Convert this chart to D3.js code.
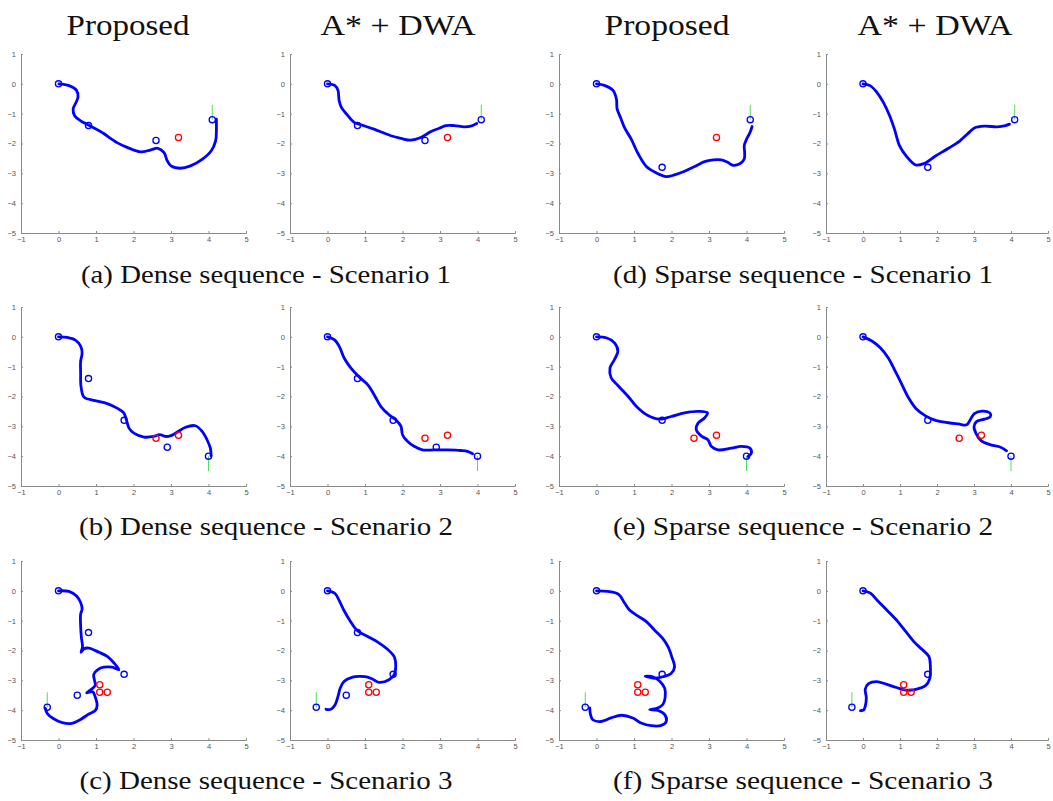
<!DOCTYPE html>
<html>
<head>
<meta charset="utf-8">
<script src="https://cdn.jsdelivr.net/npm/d3@7"></script>
<style>
  html, body { margin: 0; padding: 0; background: #fff; }
  svg { display: block; }
  .tick text { font-family: "Liberation Sans", Arial, sans-serif; font-size: 7.5px; fill: #555; }
  .domain, .tick line { stroke: #8a8a8a; stroke-width: 1; }
  .title, .caption { font-family: "Liberation Serif", "Times New Roman", serif; fill: #111; }
</style>
</head>
<body>
<svg id="fig" width="1053" height="801"></svg>
<script>
// Column headings and sub-figure captions
const columnTitles = ["Proposed", "A* + DWA", "Proposed", "A* + DWA"];
const captions = [
  "(a) Dense sequence - Scenario 1", "(d) Sparse sequence - Scenario 1",
  "(b) Dense sequence - Scenario 2", "(e) Sparse sequence - Scenario 2",
  "(c) Dense sequence - Scenario 3", "(f) Sparse sequence - Scenario 3"
];
const xTicks = [-1, 0, 1, 2, 3, 4, 5];
const yTicks = [-5, -4, -3, -2, -1, 0, 1];

// Waypoints (blue), obstacles (red) and goal heading segments (green)
const waypointsDense1 = [[0, 0], [0.8, -1.4], [2.6, -1.9], [4.1, -1.2]];
const waypointsSparse1 = [[0, 0], [1.75, -2.8], [4.1, -1.2]];
const obstaclesS1 = [[3.2, -1.8]];
const goalS1 = [[4.1, -1.2], [4.1, -0.7]];

const waypointsDense2 = [[0, 0], [0.8, -1.4], [1.75, -2.8], [2.9, -3.7], [4, -4]];
const waypointsSparse2 = [[0, 0], [1.75, -2.8], [4, -4]];
const obstaclesS2 = [[2.6, -3.4], [3.2, -3.3]];
const goalS2 = [[4, -4], [4, -4.5]];

const waypointsDense3 = [[0, 0], [0.8, -1.4], [1.75, -2.8], [0.5, -3.5], [-0.3, -3.9]];
const waypointsSparse3 = [[0, 0], [1.75, -2.8], [-0.3, -3.9]];
const obstaclesS3 = [[1.1, -3.15], [1.1, -3.4], [1.3, -3.4]];
const goalS3 = [[-0.3, -3.9], [-0.3, -3.4]];

// Executed trajectories
const pathDense1Proposed = [[0.01,0],[0.28,-0.06],[0.48,-0.22],[0.52,-0.45],[0.45,-0.67],[0.39,-0.84],[0.43,-1.07],[0.59,-1.24],[0.78,-1.37],[1.12,-1.6],[1.56,-1.97],[1.83,-2.13],[2.19,-2.28],[2.45,-2.22],[2.65,-2.16],[2.81,-2.3],[2.9,-2.58],[3.0,-2.75],[3.25,-2.83],[3.52,-2.75],[3.83,-2.53],[4.07,-2.25],[4.19,-1.91],[4.21,-1.57],[4.21,-1.18]];
const pathDense1Baseline = [[0,0],[0.2,-0.06],[0.28,-0.22],[0.31,-0.56],[0.37,-0.79],[0.52,-1.03],[0.71,-1.29],[0.89,-1.37],[1.24,-1.52],[1.69,-1.74],[1.96,-1.83],[2.22,-1.89],[2.49,-1.8],[2.76,-1.6],[2.98,-1.49],[3.16,-1.4],[3.38,-1.4],[3.64,-1.44],[3.82,-1.42],[3.98,-1.33]];
const pathSparse1Proposed = [[0,0],[0.21,-0.05],[0.44,-0.22],[0.53,-0.5],[0.55,-0.84],[0.64,-1.13],[0.75,-1.48],[0.93,-1.86],[1.1,-2.32],[1.33,-2.77],[1.59,-2.98],[1.86,-3.11],[2.08,-3.05],[2.35,-2.93],[2.62,-2.77],[2.88,-2.61],[3.11,-2.55],[3.33,-2.55],[3.51,-2.64],[3.64,-2.73],[3.82,-2.68],[3.94,-2.52],[3.95,-2.3],[3.94,-2.07],[4.0,-1.86],[4.09,-1.64],[4.15,-1.43]];
const pathSparse1Baseline = [[0,0],[0.19,-0.06],[0.37,-0.28],[0.55,-0.62],[0.72,-1.07],[0.85,-1.52],[0.99,-2.08],[1.17,-2.42],[1.43,-2.72],[1.65,-2.67],[1.96,-2.42],[2.31,-2.16],[2.62,-1.91],[2.84,-1.66],[3.01,-1.48],[3.28,-1.42],[3.63,-1.44],[3.85,-1.4],[3.96,-1.35]];

const pathDense2Proposed = [[0,0],[0.23,-0.02],[0.45,-0.11],[0.59,-0.31],[0.63,-0.54],[0.59,-0.82],[0.59,-1.21],[0.6,-1.66],[0.68,-2.02],[0.94,-2.13],[1.3,-2.24],[1.56,-2.39],[1.74,-2.55],[1.81,-2.78],[1.88,-3.06],[2.01,-3.23],[2.28,-3.36],[2.54,-3.34],[2.7,-3.28],[2.85,-3.34],[3.0,-3.31],[3.16,-3.2],[3.39,-3.03],[3.65,-2.98],[3.83,-3.17],[3.96,-3.45],[4.05,-3.73],[4.07,-3.99]];
const pathDense2Baseline = [[0,0],[0.18,-0.09],[0.31,-0.31],[0.44,-0.7],[0.62,-1.04],[0.84,-1.34],[1.07,-1.6],[1.24,-1.93],[1.42,-2.33],[1.64,-2.61],[1.82,-2.78],[1.96,-3.0],[2.0,-3.28],[2.13,-3.5],[2.31,-3.67],[2.53,-3.79],[2.84,-3.79],[3.2,-3.79],[3.56,-3.81],[3.73,-3.84],[3.87,-3.92]];
const pathSparse2Proposed = [[0,0],[0.26,-0.03],[0.48,-0.2],[0.57,-0.48],[0.48,-0.76],[0.36,-1.04],[0.39,-1.37],[0.57,-1.63],[0.84,-1.99],[1.1,-2.38],[1.37,-2.64],[1.68,-2.76],[1.99,-2.67],[2.35,-2.55],[2.71,-2.5],[2.96,-2.55],[2.88,-2.72],[2.71,-2.89],[2.66,-3.11],[2.8,-3.33],[2.97,-3.45],[3.06,-3.67],[3.24,-3.79],[3.6,-3.73],[3.86,-3.67],[4.09,-3.73],[4.13,-3.9],[4.04,-4.01]];
const pathSparse2Baseline = [[0,0],[0.24,-0.14],[0.46,-0.36],[0.68,-0.7],[0.85,-1.1],[1.03,-1.54],[1.21,-2.0],[1.43,-2.4],[1.69,-2.65],[1.96,-2.8],[2.31,-2.88],[2.58,-2.92],[2.8,-2.95],[2.9,-2.78],[3.01,-2.57],[3.23,-2.49],[3.44,-2.57],[3.44,-2.68],[3.28,-2.76],[3.06,-2.85],[3.0,-3.02],[3.06,-3.25],[3.19,-3.48],[3.45,-3.62],[3.72,-3.7],[3.88,-3.82]];

const pathDense3Proposed = [[0,0],[0.28,-0.02],[0.48,-0.17],[0.59,-0.39],[0.63,-0.61],[0.59,-0.78],[0.59,-1.17],[0.61,-1.56],[0.64,-1.89],[0.6,-2.06],[0.68,-1.94],[0.81,-1.92],[1.08,-2.06],[1.3,-2.2],[1.48,-2.42],[1.61,-2.64],[1.43,-2.56],[1.21,-2.56],[1.05,-2.64],[0.94,-2.8],[0.96,-3.0],[0.98,-3.17],[0.85,-3.33],[0.75,-3.42],[0.91,-3.38],[0.98,-3.56],[1.03,-3.83],[0.99,-4.0],[0.81,-4.13],[0.59,-4.31],[0.36,-4.44],[0.1,-4.42],[-0.14,-4.28],[-0.3,-4.11],[-0.35,-3.94]];
const pathDense3Baseline = [[0,0],[0.2,-0.09],[0.31,-0.32],[0.44,-0.66],[0.6,-1.0],[0.8,-1.34],[1.07,-1.53],[1.33,-1.71],[1.6,-1.96],[1.78,-2.21],[1.82,-2.53],[1.78,-2.81],[1.64,-2.98],[1.38,-3.07],[1.23,-2.98],[1.07,-2.89],[0.89,-2.87],[0.67,-2.89],[0.44,-3.04],[0.34,-3.26],[0.28,-3.54],[0.2,-3.83],[0.09,-3.97],[-0.04,-3.97]];
const pathSparse3Proposed = [[0,0],[0.3,-0.02],[0.59,-0.12],[0.75,-0.41],[0.88,-0.64],[1.1,-0.84],[1.33,-1.03],[1.55,-1.32],[1.77,-1.6],[1.91,-1.88],[2.01,-2.22],[2.08,-2.56],[1.99,-2.77],[1.77,-2.88],[1.55,-2.93],[1.3,-2.86],[1.5,-2.88],[1.68,-3.02],[1.82,-3.27],[1.83,-3.58],[1.77,-3.81],[1.59,-3.95],[1.42,-3.98],[1.64,-4.01],[1.82,-4.15],[1.86,-4.38],[1.73,-4.51],[1.46,-4.52],[1.19,-4.43],[0.97,-4.26],[0.66,-4.17],[0.39,-4.26],[0.12,-4.38],[-0.1,-4.32],[-0.16,-4.15],[-0.18,-3.92]];
const pathSparse3Baseline = [[0,0],[0.19,-0.07],[0.41,-0.35],[0.68,-0.69],[0.94,-1.03],[1.16,-1.37],[1.38,-1.71],[1.6,-1.97],[1.78,-2.2],[1.82,-2.51],[1.8,-2.96],[1.69,-3.18],[1.43,-3.3],[1.16,-3.33],[0.9,-3.24],[0.63,-3.13],[0.37,-3.04],[0.15,-3.11],[0.06,-3.3],[0.09,-3.58],[0.06,-3.87],[0.02,-3.99],[-0.07,-4.02]];

// Panels in row-major order: [path, waypoints, obstacles, goal]
const panels = [
  [pathDense1Proposed, waypointsDense1, obstaclesS1, goalS1],
  [pathDense1Baseline, waypointsDense1, obstaclesS1, goalS1],
  [pathSparse1Proposed, waypointsSparse1, obstaclesS1, goalS1],
  [pathSparse1Baseline, waypointsSparse1, [], goalS1],
  [pathDense2Proposed, waypointsDense2, obstaclesS2, goalS2],
  [pathDense2Baseline, waypointsDense2, obstaclesS2, goalS2],
  [pathSparse2Proposed, waypointsSparse2, obstaclesS2, goalS2],
  [pathSparse2Baseline, waypointsSparse2, obstaclesS2, goalS2],
  [pathDense3Proposed, waypointsDense3, obstaclesS3, goalS3],
  [pathDense3Baseline, waypointsDense3, obstaclesS3, goalS3],
  [pathSparse3Proposed, waypointsSparse3, obstaclesS3, goalS3],
  [pathSparse3Baseline, waypointsSparse3, obstaclesS3, goalS3]
];

// Layout of the 4 x 3 grid of plot areas
const colLeft = [21, 290, 559, 826];
const colWidth = [225, 225, 225, 222];
const rowTop = [54, 307, 561];
const plotH = 179;

const svg = d3.select("#fig");

panels.forEach((p, i) => {
  const [path, wps, obs, goal] = p;
  const col = i % 4, row = Math.floor(i / 4);
  const x = d3.scaleLinear().domain([-1, 5]).range([0, colWidth[col]]);
  const y = d3.scaleLinear().domain([-5, 1]).range([plotH, 0]);
  const g = svg.append("g").attr("transform", `translate(${colLeft[col]},${rowTop[row]})`);

  g.append("g").attr("transform", `translate(0,${plotH})`)
    .call(d3.axisBottom(x).tickValues(xTicks).tickSize(-2).tickPadding(4).tickFormat(d3.format("d")));
  g.append("g")
    .call(d3.axisLeft(y).tickValues(yTicks).tickSize(-2).tickPadding(5).tickFormat(d3.format("d")));

  const line = d3.line().x(d => x(d[0])).y(d => y(d[1])).curve(d3.curveCatmullRom.alpha(0.5));

  g.append("path").datum(goal)
    .attr("d", d3.line().x(d => x(d[0])).y(d => y(d[1])))
    .attr("stroke", "#55dd55").attr("stroke-width", 1).attr("fill", "none");

  g.append("path").datum(path).attr("d", line)
    .attr("fill", "none").attr("stroke", "#0000ff").attr("stroke-width", 2.8)
    .attr("stroke-linejoin", "round").attr("stroke-linecap", "round");

  g.selectAll("circle.wp").data(wps).join("circle").attr("class", "wp")
    .attr("cx", d => x(d[0])).attr("cy", d => y(d[1])).attr("r", 3.1)
    .attr("fill", "none").attr("stroke", "#0000ff").attr("stroke-width", 1.3);
  g.selectAll("circle.ob").data(obs).join("circle").attr("class", "ob")
    .attr("cx", d => x(d[0])).attr("cy", d => y(d[1])).attr("r", 3.1)
    .attr("fill", "none").attr("stroke", "#ff0000").attr("stroke-width", 1.3);
});

// Column headings
const titleX = [128, 398, 667, 935];
const titleLen = [123, 155, 125, 155];
columnTitles.forEach((t, i) => {
  svg.append("text").attr("class", "title")
    .attr("x", titleX[i]).attr("y", 35).attr("text-anchor", "middle")
    .attr("font-size", 29).attr("textLength", titleLen[i]).attr("lengthAdjust", "spacingAndGlyphs")
    .text(t);
});

// Sub-figure captions
const capX = [266, 803];
const capY = [283, 535, 789];
const capLen = [370, 380, 374, 380, 373, 380];
captions.forEach((c, i) => {
  svg.append("text").attr("class", "caption")
    .attr("x", capX[i % 2]).attr("y", capY[Math.floor(i / 2)]).attr("text-anchor", "middle")
    .attr("font-size", 25).attr("textLength", capLen[i]).attr("lengthAdjust", "spacingAndGlyphs")
    .text(c);
});
</script>
</body>
</html>
